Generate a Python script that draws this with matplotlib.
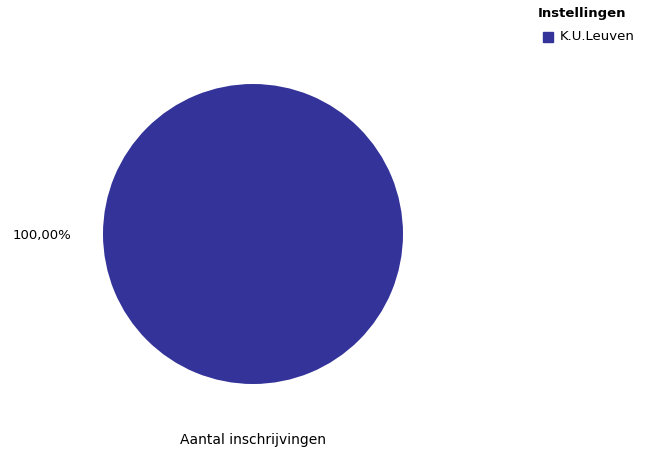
import matplotlib.pyplot as plt

# Data
labels = ['K.U.Leuven']
values = [100.0]
colors = ['#333399']
legend_title = 'Instellingen'
chart_title = 'Aantal inschrijvingen'

fig = plt.figure(figsize=(6.52, 4.53), dpi=100)
ax = fig.add_axes([103 / 652, 69 / 453, 300 / 652, 300 / 453])
ax.pie(values, colors=colors, startangle=90, counterclock=False,
       wedgeprops={'linewidth': 0})
ax.set_xlim(-1, 1)
ax.set_ylim(-1, 1)
ax.set_aspect('equal')

# Percentage label to the left of the pie
pct = sum(values)
fig.text(42 / 652, 1 - 236 / 453, f'{values[0] / pct * 100:.2f}%'.replace('.', ','),
         ha='center', va='center', fontsize=9.5)

fig.text(253 / 652, 1 - 440 / 453, chart_title, ha='center', va='center', fontsize=10)

# Legend
fig.text(538 / 652, 1 - 14 / 453, legend_title, ha='left', va='center',
         fontsize=9.5, fontweight='bold')
for i, (lab, col) in enumerate(zip(labels, colors)):
    y = 37 + i * 18
    fig.patches.append(plt.Rectangle((543 / 652, 1 - (y + 5) / 453), 10 / 652, 10 / 453,
                                     transform=fig.transFigure, color=col))
    fig.text(560 / 652, 1 - y / 453, lab, ha='left', va='center', fontsize=9.5)

fig.savefig('out.png', dpi=100)
